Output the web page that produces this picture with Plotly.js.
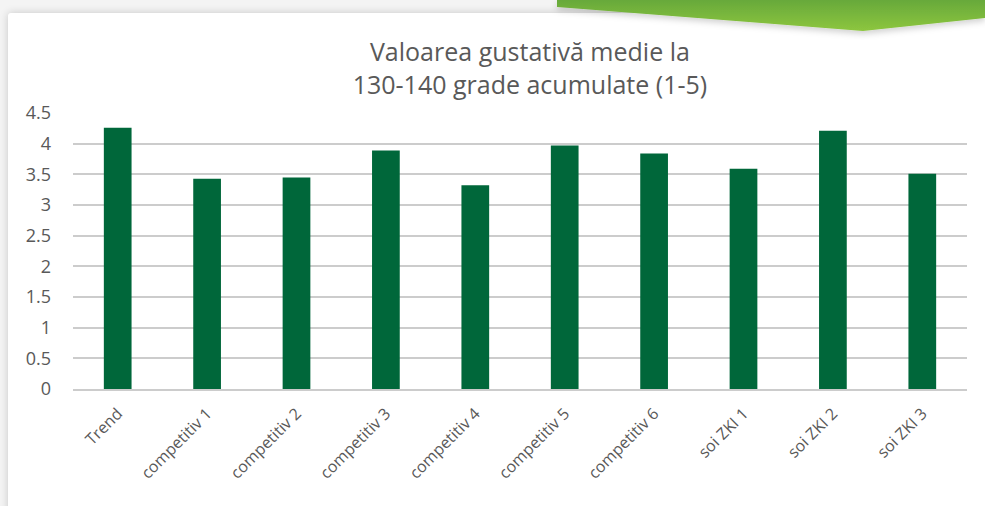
<!DOCTYPE html>
<html>
<head>
<meta charset="utf-8">
<script src="https://cdn.plot.ly/plotly-3.0.1.min.js"></script>
<style>
  html, body { margin: 0; padding: 0; width: 985px; height: 506px; overflow: hidden; background: #f4f4f4; }
  #card { position: absolute; left: 8px; top: 13px; width: 1000px; height: 520px; background: #ffffff;
          box-shadow: 0 0 8px rgba(0,0,0,0.18); border-radius: 3px; }
  #banner { position: absolute; left: 0; top: 0; width: 985px; height: 40px; }
  #chart { position: absolute; left: 0; top: 0; width: 985px; height: 506px; }
</style>
</head>
<body>
<div id="card"></div>
<svg id="banner" width="985" height="40">
  <defs>
    <linearGradient id="g" x1="0" y1="0" x2="0" y2="1">
      <stop offset="0" stop-color="#67a93a"/>
      <stop offset="1" stop-color="#8dc63f"/>
    </linearGradient>
    <filter id="sh" x="-5%" y="-50%" width="110%" height="200%">
      <feDropShadow dx="0" dy="3" stdDeviation="3" flood-color="#000" flood-opacity="0.18"/>
    </filter>
  </defs>
  <polygon points="557,0 985,0 985,18 863,31 557,7" fill="url(#g)" filter="url(#sh)"/>
</svg>
<div id="chart"></div>
<script>
const categories = ["Trend", "competitiv 1", "competitiv 2", "competitiv 3", "competitiv 4",
                    "competitiv 5", "competitiv 6", "soi ZKI 1", "soi ZKI 2", "soi ZKI 3"];
const values = [4.26, 3.43, 3.45, 3.89, 3.32, 3.97, 3.84, 3.59, 4.21, 3.51];
const yTickVals = [0, 0.5, 1, 1.5, 2, 2.5, 3, 3.5, 4, 4.5];
const yTickText = ["0", "0.5", "1", "1.5", "2", "2.5", "3", "3.5", "4", "4.5"];

const trace = {
  type: "bar",
  x: categories,
  y: values,
  marker: { color: "#00673a" },
  hoverinfo: "x+y"
};

const layout = {
  width: 985, height: 506,
  paper_bgcolor: "rgba(0,0,0,0)",
  plot_bgcolor: "rgba(0,0,0,0)",
  margin: { l: 73, r: 18, t: 113, b: 117 },
  bargap: 0.69,
  showlegend: false,
  font: { family: "Open Sans, sans-serif", color: "#595959" },
  title: {
    text: "Valoarea gustativă medie la<br>130-140 grade acumulate (1-5)",
    font: { family: "Open Sans, sans-serif", size: 25, color: "#595959" },
    x: 0.538, xanchor: "center",
    y: 0.879, yanchor: "top"
  },
  xaxis: {
    type: "category",
    tickangle: -45,
    tickfont: { size: 16, color: "#595959" },
    showgrid: false,
    showline: true, linecolor: "#cccccc", linewidth: 2,
    ticks: "",
    ticklabelstandoff: 7,
    fixedrange: true
  },
  yaxis: {
    range: [0, 4.5],
    tickvals: yTickVals,
    ticktext: yTickText,
    tickfont: { size: 18, color: "#595959" },
    showgrid: true, gridcolor: "#cccccc", gridwidth: 2,
    zeroline: false,
    showline: false,
    ticks: "",
    ticklabelstandoff: 21,
    fixedrange: true
  }
};

Plotly.newPlot("chart", [trace], layout, { displayModeBar: false, staticPlot: true });
</script>
</body>
</html>
